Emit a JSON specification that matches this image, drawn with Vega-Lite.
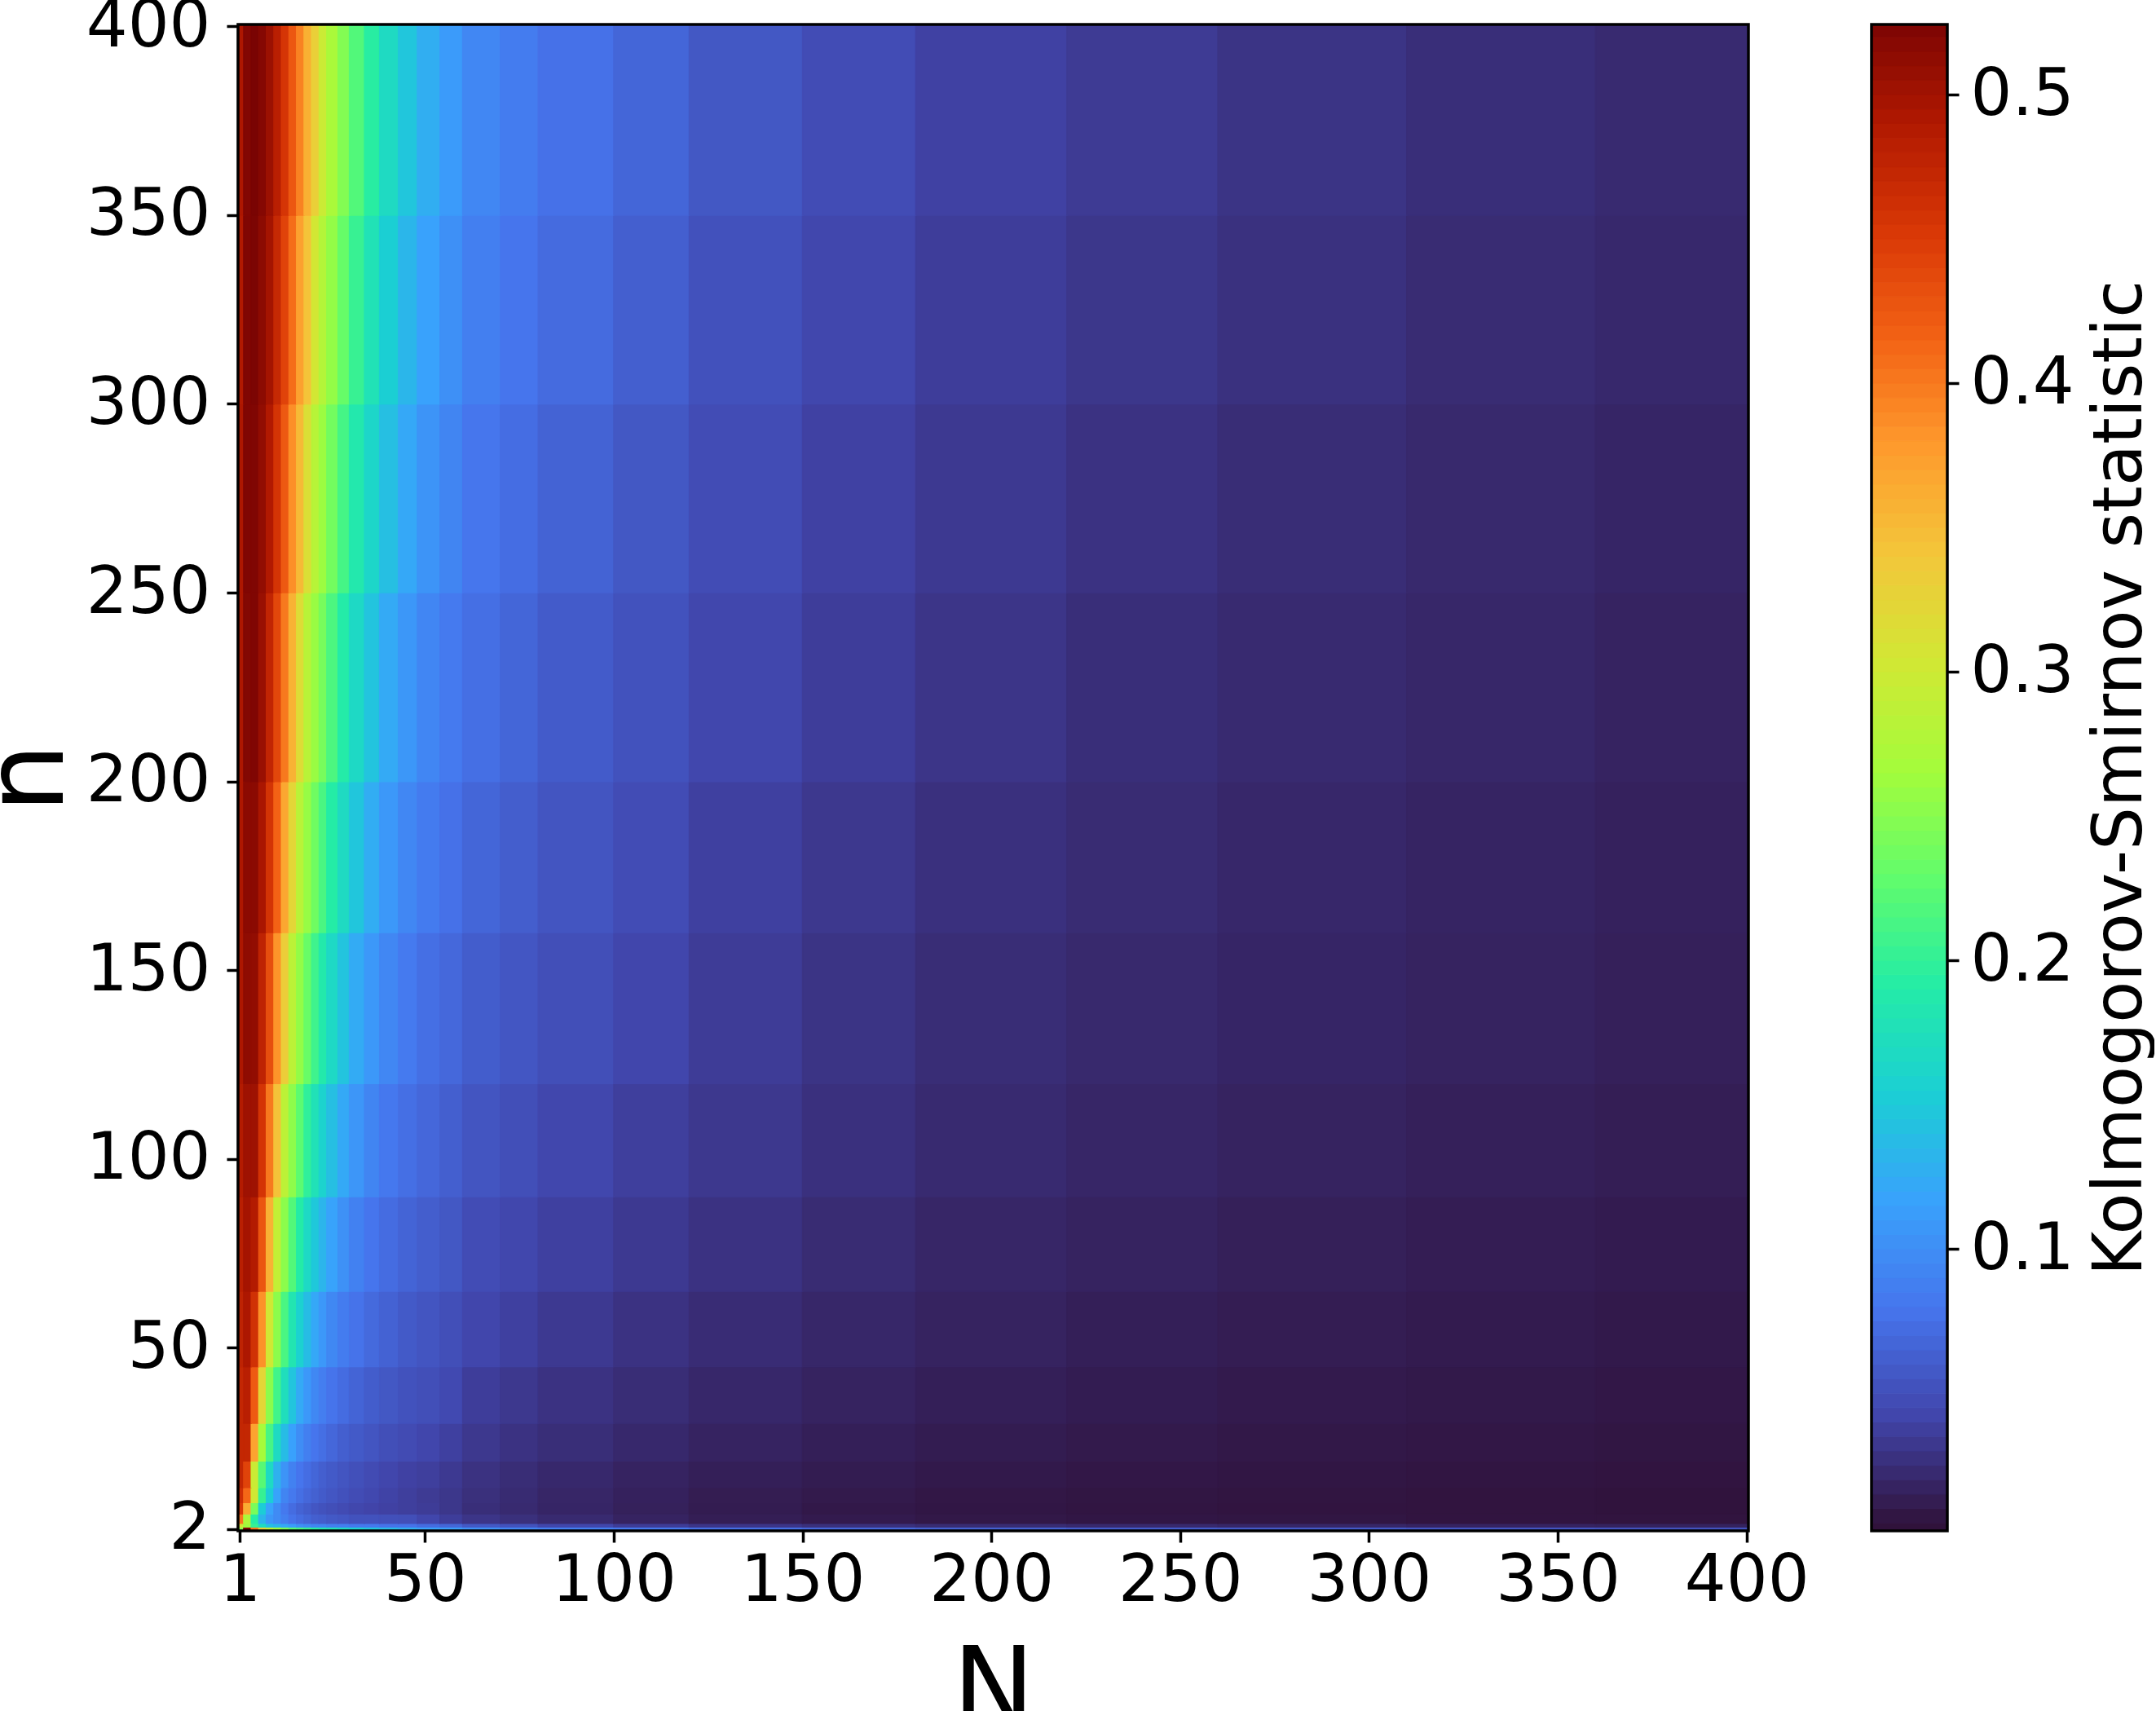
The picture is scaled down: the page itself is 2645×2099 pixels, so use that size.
{"$schema":"https://vega.github.io/schema/vega-lite/v6.json","background":"white","padding":{"left":-32,"top":-8,"right":0,"bottom":0},"bounds":"flush","spacing":151,"config":{"font":"DejaVu Sans","view":{"stroke":null},"axis":{"grid":false,"domain":false,"ticks":true,"tickColor":"black","tickSize":14,"tickWidth":3.5,"labelColor":"black","labelFontSize":80,"labelFont":"DejaVu Sans","labelOverlap":false,"labelFlush":false,"titleColor":"black","titleFont":"DejaVu Sans","titleFontWeight":"normal"}},"hconcat":[{"width":1853,"height":1848,"data":{"values":[
{"N":0,"N2":2,"n":1,"n2":2.5,"D":0.25},{"N":2,"N2":4,"n":1,"n2":2.5,"D":0.52},{"N":4,"N2":6,"n":1,"n2":2.5,"D":0.40},{"N":6,"N2":8,"n":1,"n2":2.5,"D":0.33},{"N":8,"N2":10,"n":1,"n2":2.5,"D":0.29},{"N":10,"N2":12,"n":1,"n2":2.5,"D":0.26},{"N":12,"N2":14,"n":1,"n2":2.5,"D":0.24},{"N":14,"N2":16,"n":1,"n2":2.5,"D":0.22},{"N":16,"N2":18,"n":1,"n2":2.5,"D":0.21},{"N":18,"N2":20,"n":1,"n2":2.5,"D":0.20},{"N":20,"N2":22,"n":1,"n2":2.5,"D":0.19},{"N":22,"N2":24,"n":1,"n2":2.5,"D":0.18},{"N":24,"N2":27,"n":1,"n2":2.5,"D":0.175},{"N":27,"N2":30,"n":1,"n2":2.5,"D":0.165},{"N":30,"N2":34,"n":1,"n2":2.5,"D":0.155},{"N":34,"N2":38,"n":1,"n2":2.5,"D":0.145},{"N":38,"N2":43,"n":1,"n2":2.5,"D":0.135},{"N":43,"N2":48,"n":1,"n2":2.5,"D":0.125},{"N":48,"N2":54,"n":1,"n2":2.5,"D":0.115},{"N":54,"N2":60,"n":1,"n2":2.5,"D":0.11},{"N":60,"N2":70,"n":1,"n2":2.5,"D":0.10},{"N":70,"N2":80,"n":1,"n2":2.5,"D":0.09},{"N":80,"N2":100,"n":1,"n2":2.5,"D":0.085},{"N":100,"N2":120,"n":1,"n2":2.5,"D":0.08},{"N":120,"N2":150,"n":1,"n2":2.5,"D":0.072},{"N":150,"N2":180,"n":1,"n2":2.5,"D":0.066},{"N":180,"N2":220,"n":1,"n2":2.5,"D":0.061},{"N":220,"N2":260,"n":1,"n2":2.5,"D":0.057},{"N":260,"N2":310,"n":1,"n2":2.5,"D":0.055},{"N":310,"N2":360,"n":1,"n2":2.5,"D":0.052},{"N":360,"N2":401,"n":1,"n2":2.5,"D":0.05},
{"N":0,"N2":2,"n":2.5,"n2":3.5,"D":0.3},{"N":2,"N2":4,"n":2.5,"n2":3.5,"D":0.26},{"N":4,"N2":6,"n":2.5,"n2":3.5,"D":0.2},{"N":6,"N2":8,"n":2.5,"n2":3.5,"D":0.17},{"N":8,"N2":10,"n":2.5,"n2":3.5,"D":0.14},{"N":10,"N2":12,"n":2.5,"n2":3.5,"D":0.13},{"N":12,"N2":14,"n":2.5,"n2":3.5,"D":0.12},{"N":14,"N2":16,"n":2.5,"n2":3.5,"D":0.11},{"N":16,"N2":18,"n":2.5,"n2":3.5,"D":0.1},{"N":18,"N2":20,"n":2.5,"n2":3.5,"D":0.095},{"N":20,"N2":22,"n":2.5,"n2":3.5,"D":0.09},{"N":22,"N2":24,"n":2.5,"n2":3.5,"D":0.09},{"N":24,"N2":27,"n":2.5,"n2":3.5,"D":0.085},{"N":27,"N2":30,"n":2.5,"n2":3.5,"D":0.085},{"N":30,"N2":34,"n":2.5,"n2":3.5,"D":0.08},{"N":34,"N2":38,"n":2.5,"n2":3.5,"D":0.08},{"N":38,"N2":43,"n":2.5,"n2":3.5,"D":0.075},{"N":43,"N2":48,"n":2.5,"n2":3.5,"D":0.075},{"N":48,"N2":54,"n":2.5,"n2":3.5,"D":0.07},{"N":54,"N2":60,"n":2.5,"n2":3.5,"D":0.065},{"N":60,"N2":70,"n":2.5,"n2":3.5,"D":0.055},{"N":70,"N2":80,"n":2.5,"n2":3.5,"D":0.05},{"N":80,"N2":100,"n":2.5,"n2":3.5,"D":0.04},{"N":100,"N2":120,"n":2.5,"n2":3.5,"D":0.033},{"N":120,"N2":150,"n":2.5,"n2":3.5,"D":0.028},{"N":150,"N2":180,"n":2.5,"n2":3.5,"D":0.024},{"N":180,"N2":220,"n":2.5,"n2":3.5,"D":0.021},{"N":220,"N2":260,"n":2.5,"n2":3.5,"D":0.019},{"N":260,"N2":310,"n":2.5,"n2":3.5,"D":0.017},{"N":310,"N2":360,"n":2.5,"n2":3.5,"D":0.015},{"N":360,"N2":401,"n":2.5,"n2":3.5,"D":0.014},
{"N":0,"N2":2,"n":3.5,"n2":6,"D":0.4},{"N":2,"N2":4,"n":3.5,"n2":6,"D":0.27},{"N":4,"N2":6,"n":3.5,"n2":6,"D":0.19},{"N":6,"N2":8,"n":3.5,"n2":6,"D":0.13},{"N":8,"N2":10,"n":3.5,"n2":6,"D":0.105},{"N":10,"N2":12,"n":3.5,"n2":6,"D":0.095},{"N":12,"N2":14,"n":3.5,"n2":6,"D":0.085},{"N":14,"N2":16,"n":3.5,"n2":6,"D":0.075},{"N":16,"N2":18,"n":3.5,"n2":6,"D":0.07},{"N":18,"N2":20,"n":3.5,"n2":6,"D":0.065},{"N":20,"N2":22,"n":3.5,"n2":6,"D":0.06},{"N":22,"N2":24,"n":3.5,"n2":6,"D":0.058},{"N":24,"N2":27,"n":3.5,"n2":6,"D":0.055},{"N":27,"N2":30,"n":3.5,"n2":6,"D":0.053},{"N":30,"N2":34,"n":3.5,"n2":6,"D":0.05},{"N":34,"N2":38,"n":3.5,"n2":6,"D":0.05},{"N":38,"N2":43,"n":3.5,"n2":6,"D":0.048},{"N":43,"N2":48,"n":3.5,"n2":6,"D":0.047},{"N":48,"N2":54,"n":3.5,"n2":6,"D":0.04},{"N":54,"N2":60,"n":3.5,"n2":6,"D":0.034},{"N":60,"N2":70,"n":3.5,"n2":6,"D":0.028},{"N":70,"N2":80,"n":3.5,"n2":6,"D":0.024},{"N":80,"N2":100,"n":3.5,"n2":6,"D":0.02},{"N":100,"N2":120,"n":3.5,"n2":6,"D":0.015},{"N":120,"N2":150,"n":3.5,"n2":6,"D":0.011},{"N":150,"N2":180,"n":3.5,"n2":6,"D":0.0085},{"N":180,"N2":220,"n":3.5,"n2":6,"D":0.0065},{"N":220,"N2":260,"n":3.5,"n2":6,"D":0.0055},{"N":260,"N2":310,"n":3.5,"n2":6,"D":0.005},{"N":310,"N2":360,"n":3.5,"n2":6,"D":0.004},{"N":360,"N2":401,"n":3.5,"n2":6,"D":0.0035},
{"N":0,"N2":2,"n":6,"n2":9,"D":0.45},{"N":2,"N2":4,"n":6,"n2":9,"D":0.36},{"N":4,"N2":6,"n":6,"n2":9,"D":0.24},{"N":6,"N2":8,"n":6,"n2":9,"D":0.15},{"N":8,"N2":10,"n":6,"n2":9,"D":0.115},{"N":10,"N2":12,"n":6,"n2":9,"D":0.095},{"N":12,"N2":14,"n":6,"n2":9,"D":0.08},{"N":14,"N2":16,"n":6,"n2":9,"D":0.07},{"N":16,"N2":18,"n":6,"n2":9,"D":0.063},{"N":18,"N2":20,"n":6,"n2":9,"D":0.058},{"N":20,"N2":22,"n":6,"n2":9,"D":0.053},{"N":22,"N2":24,"n":6,"n2":9,"D":0.05},{"N":24,"N2":27,"n":6,"n2":9,"D":0.047},{"N":27,"N2":30,"n":6,"n2":9,"D":0.044},{"N":30,"N2":34,"n":6,"n2":9,"D":0.041},{"N":34,"N2":38,"n":6,"n2":9,"D":0.039},{"N":38,"N2":43,"n":6,"n2":9,"D":0.037},{"N":43,"N2":48,"n":6,"n2":9,"D":0.035},{"N":48,"N2":54,"n":6,"n2":9,"D":0.033},{"N":54,"N2":60,"n":6,"n2":9,"D":0.029},{"N":60,"N2":70,"n":6,"n2":9,"D":0.023},{"N":70,"N2":80,"n":6,"n2":9,"D":0.02},{"N":80,"N2":100,"n":6,"n2":9,"D":0.0165},{"N":100,"N2":120,"n":6,"n2":9,"D":0.013},{"N":120,"N2":150,"n":6,"n2":9,"D":0.0095},{"N":150,"N2":180,"n":6,"n2":9,"D":0.007},{"N":180,"N2":220,"n":6,"n2":9,"D":0.0055},{"N":220,"N2":260,"n":6,"n2":9,"D":0.0045},{"N":260,"N2":310,"n":6,"n2":9,"D":0.004},{"N":310,"N2":360,"n":6,"n2":9,"D":0.0035},{"N":360,"N2":401,"n":6,"n2":9,"D":0.003},
{"N":0,"N2":2,"n":9,"n2":13,"D":0.46},{"N":2,"N2":4,"n":9,"n2":13,"D":0.41},{"N":4,"N2":6,"n":9,"n2":13,"D":0.3},{"N":6,"N2":8,"n":9,"n2":13,"D":0.2},{"N":8,"N2":10,"n":9,"n2":13,"D":0.15},{"N":10,"N2":12,"n":9,"n2":13,"D":0.115},{"N":12,"N2":14,"n":9,"n2":13,"D":0.09},{"N":14,"N2":16,"n":9,"n2":13,"D":0.08},{"N":16,"N2":18,"n":9,"n2":13,"D":0.072},{"N":18,"N2":20,"n":9,"n2":13,"D":0.066},{"N":20,"N2":22,"n":9,"n2":13,"D":0.061},{"N":22,"N2":24,"n":9,"n2":13,"D":0.057},{"N":24,"N2":27,"n":9,"n2":13,"D":0.053},{"N":27,"N2":30,"n":9,"n2":13,"D":0.049},{"N":30,"N2":34,"n":9,"n2":13,"D":0.045},{"N":34,"N2":38,"n":9,"n2":13,"D":0.042},{"N":38,"N2":43,"n":9,"n2":13,"D":0.038},{"N":43,"N2":48,"n":9,"n2":13,"D":0.035},{"N":48,"N2":54,"n":9,"n2":13,"D":0.032},{"N":54,"N2":60,"n":9,"n2":13,"D":0.029},{"N":60,"N2":70,"n":9,"n2":13,"D":0.024},{"N":70,"N2":80,"n":9,"n2":13,"D":0.0205},{"N":80,"N2":100,"n":9,"n2":13,"D":0.017},{"N":100,"N2":120,"n":9,"n2":13,"D":0.0135},{"N":120,"N2":150,"n":9,"n2":13,"D":0.01},{"N":150,"N2":180,"n":9,"n2":13,"D":0.0078},{"N":180,"N2":220,"n":9,"n2":13,"D":0.006},{"N":220,"N2":260,"n":9,"n2":13,"D":0.005},{"N":260,"N2":310,"n":9,"n2":13,"D":0.0042},{"N":310,"N2":360,"n":9,"n2":13,"D":0.0035},{"N":360,"N2":401,"n":9,"n2":13,"D":0.003},
{"N":0,"N2":2,"n":13,"n2":20,"D":0.47},{"N":2,"N2":4,"n":13,"n2":20,"D":0.44},{"N":4,"N2":6,"n":13,"n2":20,"D":0.295},{"N":6,"N2":8,"n":13,"n2":20,"D":0.22},{"N":8,"N2":10,"n":13,"n2":20,"D":0.165},{"N":10,"N2":12,"n":13,"n2":20,"D":0.127},{"N":12,"N2":14,"n":13,"n2":20,"D":0.103},{"N":14,"N2":16,"n":13,"n2":20,"D":0.087},{"N":16,"N2":18,"n":13,"n2":20,"D":0.077},{"N":18,"N2":20,"n":13,"n2":20,"D":0.071},{"N":20,"N2":22,"n":13,"n2":20,"D":0.065},{"N":22,"N2":24,"n":13,"n2":20,"D":0.06},{"N":24,"N2":27,"n":13,"n2":20,"D":0.056},{"N":27,"N2":30,"n":13,"n2":20,"D":0.052},{"N":30,"N2":34,"n":13,"n2":20,"D":0.048},{"N":34,"N2":38,"n":13,"n2":20,"D":0.044},{"N":38,"N2":43,"n":13,"n2":20,"D":0.04},{"N":43,"N2":48,"n":13,"n2":20,"D":0.037},{"N":48,"N2":54,"n":13,"n2":20,"D":0.035},{"N":54,"N2":60,"n":13,"n2":20,"D":0.031},{"N":60,"N2":70,"n":13,"n2":20,"D":0.0255},{"N":70,"N2":80,"n":13,"n2":20,"D":0.022},{"N":80,"N2":100,"n":13,"n2":20,"D":0.0185},{"N":100,"N2":120,"n":13,"n2":20,"D":0.015},{"N":120,"N2":150,"n":13,"n2":20,"D":0.012},{"N":150,"N2":180,"n":13,"n2":20,"D":0.0095},{"N":180,"N2":220,"n":13,"n2":20,"D":0.0075},{"N":220,"N2":260,"n":13,"n2":20,"D":0.0062},{"N":260,"N2":310,"n":13,"n2":20,"D":0.0053},{"N":310,"N2":360,"n":13,"n2":20,"D":0.0045},{"N":360,"N2":401,"n":13,"n2":20,"D":0.0038},
{"N":0,"N2":2,"n":20,"n2":30,"D":0.47},{"N":2,"N2":4,"n":20,"n2":30,"D":0.47},{"N":4,"N2":6,"n":20,"n2":30,"D":0.368},{"N":6,"N2":8,"n":20,"n2":30,"D":0.265},{"N":8,"N2":10,"n":20,"n2":30,"D":0.21},{"N":10,"N2":12,"n":20,"n2":30,"D":0.166},{"N":12,"N2":14,"n":20,"n2":30,"D":0.136},{"N":14,"N2":16,"n":20,"n2":30,"D":0.113},{"N":16,"N2":18,"n":20,"n2":30,"D":0.097},{"N":18,"N2":20,"n":20,"n2":30,"D":0.085},{"N":20,"N2":22,"n":20,"n2":30,"D":0.077},{"N":22,"N2":24,"n":20,"n2":30,"D":0.072},{"N":24,"N2":27,"n":20,"n2":30,"D":0.066},{"N":27,"N2":30,"n":20,"n2":30,"D":0.06},{"N":30,"N2":34,"n":20,"n2":30,"D":0.056},{"N":34,"N2":38,"n":20,"n2":30,"D":0.052},{"N":38,"N2":43,"n":20,"n2":30,"D":0.047},{"N":43,"N2":48,"n":20,"n2":30,"D":0.044},{"N":48,"N2":54,"n":20,"n2":30,"D":0.04},{"N":54,"N2":60,"n":20,"n2":30,"D":0.036},{"N":60,"N2":70,"n":20,"n2":30,"D":0.03},{"N":70,"N2":80,"n":20,"n2":30,"D":0.026},{"N":80,"N2":100,"n":20,"n2":30,"D":0.0225},{"N":100,"N2":120,"n":20,"n2":30,"D":0.0185},{"N":120,"N2":150,"n":20,"n2":30,"D":0.015},{"N":150,"N2":180,"n":20,"n2":30,"D":0.012},{"N":180,"N2":220,"n":20,"n2":30,"D":0.0096},{"N":220,"N2":260,"n":20,"n2":30,"D":0.008},{"N":260,"N2":310,"n":20,"n2":30,"D":0.0067},{"N":310,"N2":360,"n":20,"n2":30,"D":0.0058},{"N":360,"N2":401,"n":20,"n2":30,"D":0.005},
{"N":0,"N2":2,"n":30,"n2":45,"D":0.47},{"N":2,"N2":4,"n":30,"n2":45,"D":0.48},{"N":4,"N2":6,"n":30,"n2":45,"D":0.42},{"N":6,"N2":8,"n":30,"n2":45,"D":0.32},{"N":8,"N2":10,"n":30,"n2":45,"D":0.25},{"N":10,"N2":12,"n":30,"n2":45,"D":0.207},{"N":12,"N2":14,"n":30,"n2":45,"D":0.171},{"N":14,"N2":16,"n":30,"n2":45,"D":0.143},{"N":16,"N2":18,"n":30,"n2":45,"D":0.121},{"N":18,"N2":20,"n":30,"n2":45,"D":0.106},{"N":20,"N2":22,"n":30,"n2":45,"D":0.093},{"N":22,"N2":24,"n":30,"n2":45,"D":0.084},{"N":24,"N2":27,"n":30,"n2":45,"D":0.076},{"N":27,"N2":30,"n":30,"n2":45,"D":0.07},{"N":30,"N2":34,"n":30,"n2":45,"D":0.064},{"N":34,"N2":38,"n":30,"n2":45,"D":0.058},{"N":38,"N2":43,"n":30,"n2":45,"D":0.054},{"N":43,"N2":48,"n":30,"n2":45,"D":0.05},{"N":48,"N2":54,"n":30,"n2":45,"D":0.047},{"N":54,"N2":60,"n":30,"n2":45,"D":0.043},{"N":60,"N2":70,"n":30,"n2":45,"D":0.034},{"N":70,"N2":80,"n":30,"n2":45,"D":0.03},{"N":80,"N2":100,"n":30,"n2":45,"D":0.026},{"N":100,"N2":120,"n":30,"n2":45,"D":0.022},{"N":120,"N2":150,"n":30,"n2":45,"D":0.018},{"N":150,"N2":180,"n":30,"n2":45,"D":0.0145},{"N":180,"N2":220,"n":30,"n2":45,"D":0.0118},{"N":220,"N2":260,"n":30,"n2":45,"D":0.0098},{"N":260,"N2":310,"n":30,"n2":45,"D":0.0083},{"N":310,"N2":360,"n":30,"n2":45,"D":0.0072},{"N":360,"N2":401,"n":30,"n2":45,"D":0.0062},
{"N":0,"N2":2,"n":45,"n2":65,"D":0.475},{"N":2,"N2":4,"n":45,"n2":65,"D":0.49},{"N":4,"N2":6,"n":45,"n2":65,"D":0.458},{"N":6,"N2":8,"n":45,"n2":65,"D":0.381},{"N":8,"N2":10,"n":45,"n2":65,"D":0.3},{"N":10,"N2":12,"n":45,"n2":65,"D":0.25},{"N":12,"N2":14,"n":45,"n2":65,"D":0.212},{"N":14,"N2":16,"n":45,"n2":65,"D":0.18},{"N":16,"N2":18,"n":45,"n2":65,"D":0.155},{"N":18,"N2":20,"n":45,"n2":65,"D":0.136},{"N":20,"N2":22,"n":45,"n2":65,"D":0.119},{"N":22,"N2":24,"n":45,"n2":65,"D":0.106},{"N":24,"N2":27,"n":45,"n2":65,"D":0.093},{"N":27,"N2":30,"n":45,"n2":65,"D":0.083},{"N":30,"N2":34,"n":45,"n2":65,"D":0.075},{"N":34,"N2":38,"n":45,"n2":65,"D":0.068},{"N":38,"N2":43,"n":45,"n2":65,"D":0.062},{"N":43,"N2":48,"n":45,"n2":65,"D":0.056},{"N":48,"N2":54,"n":45,"n2":65,"D":0.052},{"N":54,"N2":60,"n":45,"n2":65,"D":0.047},{"N":60,"N2":70,"n":45,"n2":65,"D":0.04},{"N":70,"N2":80,"n":45,"n2":65,"D":0.036},{"N":80,"N2":100,"n":45,"n2":65,"D":0.031},{"N":100,"N2":120,"n":45,"n2":65,"D":0.026},{"N":120,"N2":150,"n":45,"n2":65,"D":0.0215},{"N":150,"N2":180,"n":45,"n2":65,"D":0.0175},{"N":180,"N2":220,"n":45,"n2":65,"D":0.0145},{"N":220,"N2":260,"n":45,"n2":65,"D":0.012},{"N":260,"N2":310,"n":45,"n2":65,"D":0.0102},{"N":310,"N2":360,"n":45,"n2":65,"D":0.0088},{"N":360,"N2":401,"n":45,"n2":65,"D":0.0075},
{"N":0,"N2":2,"n":65,"n2":90,"D":0.48},{"N":2,"N2":4,"n":65,"n2":90,"D":0.495},{"N":4,"N2":6,"n":65,"n2":90,"D":0.485},{"N":6,"N2":8,"n":65,"n2":90,"D":0.424},{"N":8,"N2":10,"n":65,"n2":90,"D":0.355},{"N":10,"N2":12,"n":65,"n2":90,"D":0.288},{"N":12,"N2":14,"n":65,"n2":90,"D":0.25},{"N":14,"N2":16,"n":65,"n2":90,"D":0.217},{"N":16,"N2":18,"n":65,"n2":90,"D":0.188},{"N":18,"N2":20,"n":65,"n2":90,"D":0.164},{"N":20,"N2":22,"n":65,"n2":90,"D":0.146},{"N":22,"N2":24,"n":65,"n2":90,"D":0.13},{"N":24,"N2":27,"n":65,"n2":90,"D":0.115},{"N":27,"N2":30,"n":65,"n2":90,"D":0.1},{"N":30,"N2":34,"n":65,"n2":90,"D":0.087},{"N":34,"N2":38,"n":65,"n2":90,"D":0.077},{"N":38,"N2":43,"n":65,"n2":90,"D":0.07},{"N":43,"N2":48,"n":65,"n2":90,"D":0.064},{"N":48,"N2":54,"n":65,"n2":90,"D":0.059},{"N":54,"N2":60,"n":65,"n2":90,"D":0.054},{"N":60,"N2":70,"n":65,"n2":90,"D":0.045},{"N":70,"N2":80,"n":65,"n2":90,"D":0.041},{"N":80,"N2":100,"n":65,"n2":90,"D":0.036},{"N":100,"N2":120,"n":65,"n2":90,"D":0.031},{"N":120,"N2":150,"n":65,"n2":90,"D":0.026},{"N":150,"N2":180,"n":65,"n2":90,"D":0.021},{"N":180,"N2":220,"n":65,"n2":90,"D":0.017},{"N":220,"N2":260,"n":65,"n2":90,"D":0.0145},{"N":260,"N2":310,"n":65,"n2":90,"D":0.0122},{"N":310,"N2":360,"n":65,"n2":90,"D":0.0105},{"N":360,"N2":401,"n":65,"n2":90,"D":0.0092},
{"N":0,"N2":2,"n":90,"n2":120,"D":0.485},{"N":2,"N2":4,"n":90,"n2":120,"D":0.5},{"N":4,"N2":6,"n":90,"n2":120,"D":0.5},{"N":6,"N2":8,"n":90,"n2":120,"D":0.454},{"N":8,"N2":10,"n":90,"n2":120,"D":0.398},{"N":10,"N2":12,"n":90,"n2":120,"D":0.341},{"N":12,"N2":14,"n":90,"n2":120,"D":0.283},{"N":14,"N2":16,"n":90,"n2":120,"D":0.251},{"N":16,"N2":18,"n":90,"n2":120,"D":0.223},{"N":18,"N2":20,"n":90,"n2":120,"D":0.196},{"N":20,"N2":22,"n":90,"n2":120,"D":0.175},{"N":22,"N2":24,"n":90,"n2":120,"D":0.156},{"N":24,"N2":27,"n":90,"n2":120,"D":0.138},{"N":27,"N2":30,"n":90,"n2":120,"D":0.12},{"N":30,"N2":34,"n":90,"n2":120,"D":0.104},{"N":34,"N2":38,"n":90,"n2":120,"D":0.09},{"N":38,"N2":43,"n":90,"n2":120,"D":0.079},{"N":43,"N2":48,"n":90,"n2":120,"D":0.072},{"N":48,"N2":54,"n":90,"n2":120,"D":0.066},{"N":54,"N2":60,"n":90,"n2":120,"D":0.06},{"N":60,"N2":70,"n":90,"n2":120,"D":0.052},{"N":70,"N2":80,"n":90,"n2":120,"D":0.047},{"N":80,"N2":100,"n":90,"n2":120,"D":0.041},{"N":100,"N2":120,"n":90,"n2":120,"D":0.035},{"N":120,"N2":150,"n":90,"n2":120,"D":0.03},{"N":150,"N2":180,"n":90,"n2":120,"D":0.0245},{"N":180,"N2":220,"n":90,"n2":120,"D":0.02},{"N":220,"N2":260,"n":90,"n2":120,"D":0.017},{"N":260,"N2":310,"n":90,"n2":120,"D":0.0145},{"N":310,"N2":360,"n":90,"n2":120,"D":0.0125},{"N":360,"N2":401,"n":90,"n2":120,"D":0.0108},
{"N":0,"N2":2,"n":120,"n2":160,"D":0.49},{"N":2,"N2":4,"n":120,"n2":160,"D":0.51},{"N":4,"N2":6,"n":120,"n2":160,"D":0.508},{"N":6,"N2":8,"n":120,"n2":160,"D":0.475},{"N":8,"N2":10,"n":120,"n2":160,"D":0.431},{"N":10,"N2":12,"n":120,"n2":160,"D":0.38},{"N":12,"N2":14,"n":120,"n2":160,"D":0.33},{"N":14,"N2":16,"n":120,"n2":160,"D":0.282},{"N":16,"N2":18,"n":120,"n2":160,"D":0.254},{"N":18,"N2":20,"n":120,"n2":160,"D":0.23},{"N":20,"N2":22,"n":120,"n2":160,"D":0.205},{"N":22,"N2":24,"n":120,"n2":160,"D":0.185},{"N":24,"N2":27,"n":120,"n2":160,"D":0.164},{"N":27,"N2":30,"n":120,"n2":160,"D":0.142},{"N":30,"N2":34,"n":120,"n2":160,"D":0.122},{"N":34,"N2":38,"n":120,"n2":160,"D":0.106},{"N":38,"N2":43,"n":120,"n2":160,"D":0.092},{"N":43,"N2":48,"n":120,"n2":160,"D":0.081},{"N":48,"N2":54,"n":120,"n2":160,"D":0.072},{"N":54,"N2":60,"n":120,"n2":160,"D":0.067},{"N":60,"N2":70,"n":120,"n2":160,"D":0.058},{"N":70,"N2":80,"n":120,"n2":160,"D":0.053},{"N":80,"N2":100,"n":120,"n2":160,"D":0.047},{"N":100,"N2":120,"n":120,"n2":160,"D":0.04},{"N":120,"N2":150,"n":120,"n2":160,"D":0.033},{"N":150,"N2":180,"n":120,"n2":160,"D":0.027},{"N":180,"N2":220,"n":120,"n2":160,"D":0.022},{"N":220,"N2":260,"n":120,"n2":160,"D":0.019},{"N":260,"N2":310,"n":120,"n2":160,"D":0.0165},{"N":310,"N2":360,"n":120,"n2":160,"D":0.0145},{"N":360,"N2":401,"n":120,"n2":160,"D":0.0125},
{"N":0,"N2":2,"n":160,"n2":200,"D":0.49},{"N":2,"N2":4,"n":160,"n2":200,"D":0.513},{"N":4,"N2":6,"n":160,"n2":200,"D":0.513},{"N":6,"N2":8,"n":160,"n2":200,"D":0.492},{"N":8,"N2":10,"n":160,"n2":200,"D":0.455},{"N":10,"N2":12,"n":160,"n2":200,"D":0.413},{"N":12,"N2":14,"n":160,"n2":200,"D":0.365},{"N":14,"N2":16,"n":160,"n2":200,"D":0.32},{"N":16,"N2":18,"n":160,"n2":200,"D":0.281},{"N":18,"N2":20,"n":160,"n2":200,"D":0.256},{"N":20,"N2":22,"n":160,"n2":200,"D":0.234},{"N":22,"N2":24,"n":160,"n2":200,"D":0.212},{"N":24,"N2":27,"n":160,"n2":200,"D":0.189},{"N":27,"N2":30,"n":160,"n2":200,"D":0.166},{"N":30,"N2":34,"n":160,"n2":200,"D":0.144},{"N":34,"N2":38,"n":160,"n2":200,"D":0.123},{"N":38,"N2":43,"n":160,"n2":200,"D":0.106},{"N":43,"N2":48,"n":160,"n2":200,"D":0.092},{"N":48,"N2":54,"n":160,"n2":200,"D":0.082},{"N":54,"N2":60,"n":160,"n2":200,"D":0.074},{"N":60,"N2":70,"n":160,"n2":200,"D":0.065},{"N":70,"N2":80,"n":160,"n2":200,"D":0.059},{"N":80,"N2":100,"n":160,"n2":200,"D":0.052},{"N":100,"N2":120,"n":160,"n2":200,"D":0.045},{"N":120,"N2":150,"n":160,"n2":200,"D":0.036},{"N":150,"N2":180,"n":160,"n2":200,"D":0.03},{"N":180,"N2":220,"n":160,"n2":200,"D":0.0245},{"N":220,"N2":260,"n":160,"n2":200,"D":0.021},{"N":260,"N2":310,"n":160,"n2":200,"D":0.018},{"N":310,"N2":360,"n":160,"n2":200,"D":0.0155},{"N":360,"N2":401,"n":160,"n2":200,"D":0.0135},
{"N":0,"N2":2,"n":200,"n2":250,"D":0.49},{"N":2,"N2":4,"n":200,"n2":250,"D":0.518},{"N":4,"N2":6,"n":200,"n2":250,"D":0.52},{"N":6,"N2":8,"n":200,"n2":250,"D":0.503},{"N":8,"N2":10,"n":200,"n2":250,"D":0.472},{"N":10,"N2":12,"n":200,"n2":250,"D":0.437},{"N":12,"N2":14,"n":200,"n2":250,"D":0.398},{"N":14,"N2":16,"n":200,"n2":250,"D":0.355},{"N":16,"N2":18,"n":200,"n2":250,"D":0.314},{"N":18,"N2":20,"n":200,"n2":250,"D":0.28},{"N":20,"N2":22,"n":200,"n2":250,"D":0.257},{"N":22,"N2":24,"n":200,"n2":250,"D":0.238},{"N":24,"N2":27,"n":200,"n2":250,"D":0.213},{"N":27,"N2":30,"n":200,"n2":250,"D":0.187},{"N":30,"N2":34,"n":200,"n2":250,"D":0.164},{"N":34,"N2":38,"n":200,"n2":250,"D":0.142},{"N":38,"N2":43,"n":200,"n2":250,"D":0.121},{"N":43,"N2":48,"n":200,"n2":250,"D":0.105},{"N":48,"N2":54,"n":200,"n2":250,"D":0.091},{"N":54,"N2":60,"n":200,"n2":250,"D":0.081},{"N":60,"N2":70,"n":200,"n2":250,"D":0.072},{"N":70,"N2":80,"n":200,"n2":250,"D":0.065},{"N":80,"N2":100,"n":200,"n2":250,"D":0.057},{"N":100,"N2":120,"n":200,"n2":250,"D":0.05},{"N":120,"N2":150,"n":200,"n2":250,"D":0.041},{"N":150,"N2":180,"n":200,"n2":250,"D":0.034},{"N":180,"N2":220,"n":200,"n2":250,"D":0.028},{"N":220,"N2":260,"n":200,"n2":250,"D":0.023},{"N":260,"N2":310,"n":200,"n2":250,"D":0.02},{"N":310,"N2":360,"n":200,"n2":250,"D":0.0175},{"N":360,"N2":401,"n":200,"n2":250,"D":0.015},
{"N":0,"N2":2,"n":250,"n2":300,"D":0.49},{"N":2,"N2":4,"n":250,"n2":300,"D":0.52},{"N":4,"N2":6,"n":250,"n2":300,"D":0.52},{"N":6,"N2":8,"n":250,"n2":300,"D":0.508},{"N":8,"N2":10,"n":250,"n2":300,"D":0.487},{"N":10,"N2":12,"n":250,"n2":300,"D":0.455},{"N":12,"N2":14,"n":250,"n2":300,"D":0.421},{"N":14,"N2":16,"n":250,"n2":300,"D":0.383},{"N":16,"N2":18,"n":250,"n2":300,"D":0.348},{"N":18,"N2":20,"n":250,"n2":300,"D":0.31},{"N":20,"N2":22,"n":250,"n2":300,"D":0.279},{"N":22,"N2":24,"n":250,"n2":300,"D":0.259},{"N":24,"N2":27,"n":250,"n2":300,"D":0.236},{"N":27,"N2":30,"n":250,"n2":300,"D":0.209},{"N":30,"N2":34,"n":250,"n2":300,"D":0.183},{"N":34,"N2":38,"n":250,"n2":300,"D":0.16},{"N":38,"N2":43,"n":250,"n2":300,"D":0.138},{"N":43,"N2":48,"n":250,"n2":300,"D":0.119},{"N":48,"N2":54,"n":250,"n2":300,"D":0.103},{"N":54,"N2":60,"n":250,"n2":300,"D":0.09},{"N":60,"N2":70,"n":250,"n2":300,"D":0.078},{"N":70,"N2":80,"n":250,"n2":300,"D":0.071},{"N":80,"N2":100,"n":250,"n2":300,"D":0.063},{"N":100,"N2":120,"n":250,"n2":300,"D":0.054},{"N":120,"N2":150,"n":250,"n2":300,"D":0.045},{"N":150,"N2":180,"n":250,"n2":300,"D":0.037},{"N":180,"N2":220,"n":250,"n2":300,"D":0.031},{"N":220,"N2":260,"n":250,"n2":300,"D":0.026},{"N":260,"N2":310,"n":250,"n2":300,"D":0.022},{"N":310,"N2":360,"n":250,"n2":300,"D":0.019},{"N":360,"N2":401,"n":250,"n2":300,"D":0.0165},
{"N":0,"N2":2,"n":300,"n2":350,"D":0.487},{"N":2,"N2":4,"n":300,"n2":350,"D":0.52},{"N":4,"N2":6,"n":300,"n2":350,"D":0.523},{"N":6,"N2":8,"n":300,"n2":350,"D":0.512},{"N":8,"N2":10,"n":300,"n2":350,"D":0.496},{"N":10,"N2":12,"n":300,"n2":350,"D":0.468},{"N":12,"N2":14,"n":300,"n2":350,"D":0.44},{"N":14,"N2":16,"n":300,"n2":350,"D":0.406},{"N":16,"N2":18,"n":300,"n2":350,"D":0.37},{"N":18,"N2":20,"n":300,"n2":350,"D":0.34},{"N":20,"N2":22,"n":300,"n2":350,"D":0.302},{"N":22,"N2":24,"n":300,"n2":350,"D":0.276},{"N":24,"N2":27,"n":300,"n2":350,"D":0.254},{"N":27,"N2":30,"n":300,"n2":350,"D":0.229},{"N":30,"N2":34,"n":300,"n2":350,"D":0.201},{"N":34,"N2":38,"n":300,"n2":350,"D":0.176},{"N":38,"N2":43,"n":300,"n2":350,"D":0.152},{"N":43,"N2":48,"n":300,"n2":350,"D":0.131},{"N":48,"N2":54,"n":300,"n2":350,"D":0.114},{"N":54,"N2":60,"n":300,"n2":350,"D":0.099},{"N":60,"N2":70,"n":300,"n2":350,"D":0.085},{"N":70,"N2":80,"n":300,"n2":350,"D":0.077},{"N":80,"N2":100,"n":300,"n2":350,"D":0.069},{"N":100,"N2":120,"n":300,"n2":350,"D":0.06},{"N":120,"N2":150,"n":300,"n2":350,"D":0.049},{"N":150,"N2":180,"n":300,"n2":350,"D":0.041},{"N":180,"N2":220,"n":300,"n2":350,"D":0.034},{"N":220,"N2":260,"n":300,"n2":350,"D":0.029},{"N":260,"N2":310,"n":300,"n2":350,"D":0.025},{"N":310,"N2":360,"n":300,"n2":350,"D":0.021},{"N":360,"N2":401,"n":300,"n2":350,"D":0.0185},
{"N":0,"N2":2,"n":350,"n2":401,"D":0.49},{"N":2,"N2":4,"n":350,"n2":401,"D":0.519},{"N":4,"N2":6,"n":350,"n2":401,"D":0.524},{"N":6,"N2":8,"n":350,"n2":401,"D":0.517},{"N":8,"N2":10,"n":350,"n2":401,"D":0.502},{"N":10,"N2":12,"n":350,"n2":401,"D":0.48},{"N":12,"N2":14,"n":350,"n2":401,"D":0.453},{"N":14,"N2":16,"n":350,"n2":401,"D":0.423},{"N":16,"N2":18,"n":350,"n2":401,"D":0.392},{"N":18,"N2":20,"n":350,"n2":401,"D":0.357},{"N":20,"N2":22,"n":350,"n2":401,"D":0.328},{"N":22,"N2":24,"n":350,"n2":401,"D":0.295},{"N":24,"N2":27,"n":350,"n2":401,"D":0.268},{"N":27,"N2":30,"n":350,"n2":401,"D":0.245},{"N":30,"N2":34,"n":350,"n2":401,"D":0.217},{"N":34,"N2":38,"n":350,"n2":401,"D":0.191},{"N":38,"N2":43,"n":350,"n2":401,"D":0.166},{"N":43,"N2":48,"n":350,"n2":401,"D":0.144},{"N":48,"N2":54,"n":350,"n2":401,"D":0.124},{"N":54,"N2":60,"n":350,"n2":401,"D":0.108},{"N":60,"N2":70,"n":350,"n2":401,"D":0.092},{"N":70,"N2":80,"n":350,"n2":401,"D":0.083},{"N":80,"N2":100,"n":350,"n2":401,"D":0.074},{"N":100,"N2":120,"n":350,"n2":401,"D":0.065},{"N":120,"N2":150,"n":350,"n2":401,"D":0.054},{"N":150,"N2":180,"n":350,"n2":401,"D":0.045},{"N":180,"N2":220,"n":350,"n2":401,"D":0.037},{"N":220,"N2":260,"n":350,"n2":401,"D":0.032},{"N":260,"N2":310,"n":350,"n2":401,"D":0.027},{"N":310,"N2":360,"n":350,"n2":401,"D":0.023},{"N":360,"N2":401,"n":350,"n2":401,"D":0.02}
]},"layer":[{"mark":{"type":"rect","clip":true,"strokeWidth":1.5},"encoding":{"x":{"field":"N","type":"quantitative","scale":{"domain":[0.5,400.5],"nice":false,"zero":false},"axis":{"values":[1,50,100,150,200,250,300,350,400],"title":"N","titleFontSize":135,"labelPadding":8,"titlePadding":30},"title":"N"},"x2":{"field":"N2"},"y":{"field":"n","type":"quantitative","scale":{"domain":[1.5,400.5],"nice":false,"zero":false},"axis":{"values":[2,50,100,150,200,250,300,350,400],"title":"n","titleFontSize":135,"labelPadding":20,"titlePadding":1},"title":"n"},"y2":{"field":"n2"},"color":{"field":"D","type":"quantitative","legend":null,"scale":{"interpolate":"rgb","domain":[0.0023,0.0396,0.0769,0.1142,0.1515,0.1887,0.226,0.2633,0.3006,0.3379,0.3752,0.4125,0.4497,0.487,0.5243],"range":["#30123b","#4145ab","#4675ed","#39a2fc","#1bcfd4","#24eca6","#61fc6c","#a4fc3b","#d1e834","#f3c63a","#fe9b2d","#f36315","#d93806","#b11901","#7a0403"],"clamp":true}},"stroke":{"field":"D","type":"quantitative","legend":null,"scale":{"interpolate":"rgb","domain":[0.0023,0.0396,0.0769,0.1142,0.1515,0.1887,0.226,0.2633,0.3006,0.3379,0.3752,0.4125,0.4497,0.487,0.5243],"range":["#30123b","#4145ab","#4675ed","#39a2fc","#1bcfd4","#24eca6","#61fc6c","#a4fc3b","#d1e834","#f3c63a","#fe9b2d","#f36315","#d93806","#b11901","#7a0403"],"clamp":true}}}},{"data":{"values":[{"frame":"plot"}]},"mark":{"type":"rect","fill":null,"stroke":"black","strokeWidth":3.5},"encoding":{"x":{"datum":0.5,"type":"quantitative"},"x2":{"datum":400.5},"y":{"datum":1.5,"type":"quantitative"},"y2":{"datum":400.5}}}]},{"width":93,"height":1848,"data":{"values":[{"D":0.0023,"D2":0.005},{"D":0.005,"D2":0.01},{"D":0.01,"D2":0.015},{"D":0.015,"D2":0.02},{"D":0.02,"D2":0.025},{"D":0.025,"D2":0.03},{"D":0.03,"D2":0.035},{"D":0.035,"D2":0.04},{"D":0.04,"D2":0.045},{"D":0.045,"D2":0.05},{"D":0.05,"D2":0.055},{"D":0.055,"D2":0.06},{"D":0.06,"D2":0.065},{"D":0.065,"D2":0.07},{"D":0.07,"D2":0.075},{"D":0.075,"D2":0.08},{"D":0.08,"D2":0.085},{"D":0.085,"D2":0.09},{"D":0.09,"D2":0.095},{"D":0.095,"D2":0.1},{"D":0.1,"D2":0.105},{"D":0.105,"D2":0.11},{"D":0.11,"D2":0.115},{"D":0.115,"D2":0.12},{"D":0.12,"D2":0.125},{"D":0.125,"D2":0.13},{"D":0.13,"D2":0.135},{"D":0.135,"D2":0.14},{"D":0.14,"D2":0.145},{"D":0.145,"D2":0.15},{"D":0.15,"D2":0.155},{"D":0.155,"D2":0.16},{"D":0.16,"D2":0.165},{"D":0.165,"D2":0.17},{"D":0.17,"D2":0.175},{"D":0.175,"D2":0.18},{"D":0.18,"D2":0.185},{"D":0.185,"D2":0.19},{"D":0.19,"D2":0.195},{"D":0.195,"D2":0.2},{"D":0.2,"D2":0.205},{"D":0.205,"D2":0.21},{"D":0.21,"D2":0.215},{"D":0.215,"D2":0.22},{"D":0.22,"D2":0.225},{"D":0.225,"D2":0.23},{"D":0.23,"D2":0.235},{"D":0.235,"D2":0.24},{"D":0.24,"D2":0.245},{"D":0.245,"D2":0.25},{"D":0.25,"D2":0.255},{"D":0.255,"D2":0.26},{"D":0.26,"D2":0.265},{"D":0.265,"D2":0.27},{"D":0.27,"D2":0.275},{"D":0.275,"D2":0.28},{"D":0.28,"D2":0.285},{"D":0.285,"D2":0.29},{"D":0.29,"D2":0.295},{"D":0.295,"D2":0.3},{"D":0.3,"D2":0.305},{"D":0.305,"D2":0.31},{"D":0.31,"D2":0.315},{"D":0.315,"D2":0.32},{"D":0.32,"D2":0.325},{"D":0.325,"D2":0.33},{"D":0.33,"D2":0.335},{"D":0.335,"D2":0.34},{"D":0.34,"D2":0.345},{"D":0.345,"D2":0.35},{"D":0.35,"D2":0.355},{"D":0.355,"D2":0.36},{"D":0.36,"D2":0.365},{"D":0.365,"D2":0.37},{"D":0.37,"D2":0.375},{"D":0.375,"D2":0.38},{"D":0.38,"D2":0.385},{"D":0.385,"D2":0.39},{"D":0.39,"D2":0.395},{"D":0.395,"D2":0.4},{"D":0.4,"D2":0.405},{"D":0.405,"D2":0.41},{"D":0.41,"D2":0.415},{"D":0.415,"D2":0.42},{"D":0.42,"D2":0.425},{"D":0.425,"D2":0.43},{"D":0.43,"D2":0.435},{"D":0.435,"D2":0.44},{"D":0.44,"D2":0.445},{"D":0.445,"D2":0.45},{"D":0.45,"D2":0.455},{"D":0.455,"D2":0.46},{"D":0.46,"D2":0.465},{"D":0.465,"D2":0.47},{"D":0.47,"D2":0.475},{"D":0.475,"D2":0.48},{"D":0.48,"D2":0.485},{"D":0.485,"D2":0.49},{"D":0.49,"D2":0.495},{"D":0.495,"D2":0.5},{"D":0.5,"D2":0.505},{"D":0.505,"D2":0.51},{"D":0.51,"D2":0.515},{"D":0.515,"D2":0.52},{"D":0.52,"D2":0.5243}]},"layer":[{"mark":{"type":"rect","clip":true,"strokeWidth":1},"encoding":{"y":{"field":"D","type":"quantitative","scale":{"domain":[0.0023,0.5243],"nice":false,"zero":false},"axis":{"orient":"right","values":[0.1,0.2,0.3,0.4,0.5],"format":".1f","title":"Kolmogorov-Smirnov statistic","titleFontSize":83.5,"titleAngle":270,"titleBaseline":"top","labelPadding":14,"titlePadding":16}},"y2":{"field":"D2"},"color":{"field":"D","type":"quantitative","legend":null,"scale":{"interpolate":"rgb","domain":[0.0023,0.0396,0.0769,0.1142,0.1515,0.1887,0.226,0.2633,0.3006,0.3379,0.3752,0.4125,0.4497,0.487,0.5243],"range":["#30123b","#4145ab","#4675ed","#39a2fc","#1bcfd4","#24eca6","#61fc6c","#a4fc3b","#d1e834","#f3c63a","#fe9b2d","#f36315","#d93806","#b11901","#7a0403"],"clamp":true}},"stroke":{"field":"D","type":"quantitative","legend":null,"scale":{"interpolate":"rgb","domain":[0.0023,0.0396,0.0769,0.1142,0.1515,0.1887,0.226,0.2633,0.3006,0.3379,0.3752,0.4125,0.4497,0.487,0.5243],"range":["#30123b","#4145ab","#4675ed","#39a2fc","#1bcfd4","#24eca6","#61fc6c","#a4fc3b","#d1e834","#f3c63a","#fe9b2d","#f36315","#d93806","#b11901","#7a0403"],"clamp":true}}}},{"data":{"values":[{"frame":"colorbar"}]},"mark":{"type":"rect","fill":null,"stroke":"black","strokeWidth":3.5},"encoding":{"y":{"datum":0.0023,"type":"quantitative"},"y2":{"datum":0.5243}}}]}]}
